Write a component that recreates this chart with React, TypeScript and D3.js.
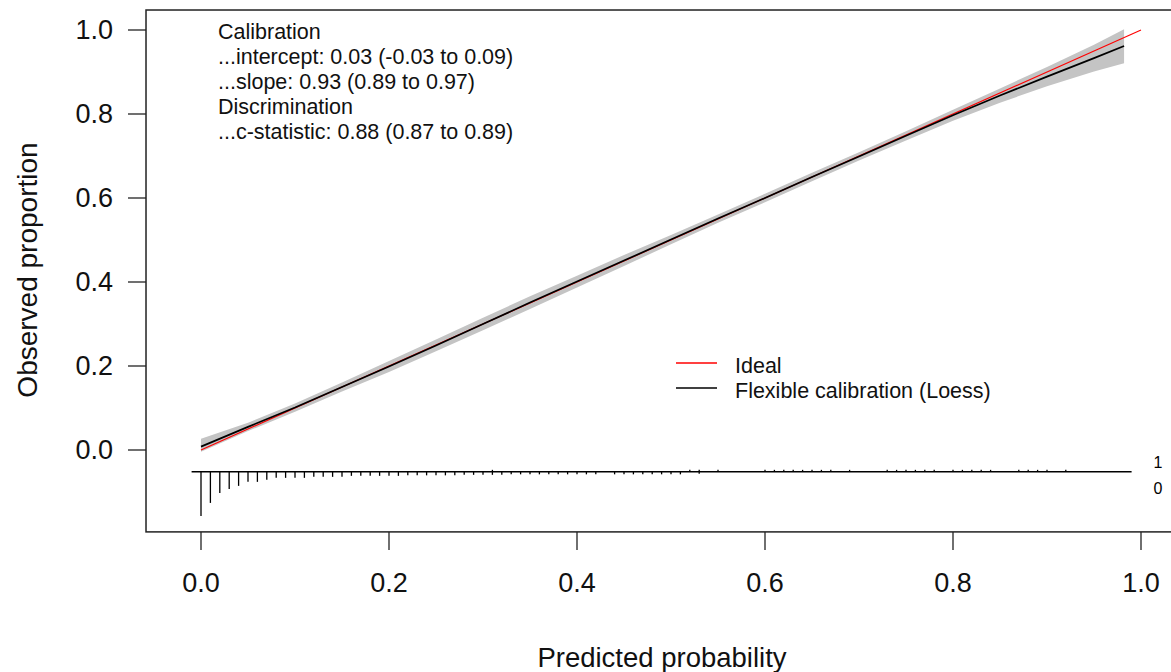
import * as d3 from "d3";

// tick values on both axes
const axisTicks = [0, 0.2, 0.4, 0.6, 0.8, 1.0];

// flexible (loess) calibration curve + confidence band
const loessX = [0, 0.05, 0.1, 0.15, 0.2, 0.25, 0.3, 0.35, 0.4, 0.45, 0.5, 0.55, 0.6, 0.65, 0.7, 0.75, 0.8, 0.85, 0.9, 0.95, 0.982];
const loessY = [0.008, 0.055, 0.101, 0.15, 0.199, 0.249, 0.3, 0.351, 0.401, 0.451, 0.501, 0.551, 0.6, 0.65, 0.699, 0.748, 0.797, 0.844, 0.889, 0.933, 0.962];
const loessLo = [-0.004, 0.045, 0.091, 0.139, 0.186, 0.235, 0.285, 0.336, 0.387, 0.438, 0.49, 0.541, 0.59, 0.64, 0.689, 0.737, 0.784, 0.827, 0.866, 0.901, 0.921];
const loessHi = [0.027, 0.065, 0.111, 0.161, 0.212, 0.263, 0.315, 0.366, 0.415, 0.464, 0.512, 0.561, 0.61, 0.66, 0.709, 0.759, 0.81, 0.861, 0.912, 0.965, 1.002];

// spike histogram: outcome 0 (downwards)
const zeroBins = [0, 0.01, 0.02, 0.03, 0.04, 0.05, 0.06, 0.07, 0.08, 0.09, 0.1, 0.11, 0.12, 0.13, 0.14, 0.15, 0.16, 0.17, 0.18, 0.19, 0.2, 0.21, 0.22, 0.23, 0.24, 0.25, 0.26, 0.27, 0.28, 0.29, 0.3, 0.31, 0.32, 0.33, 0.34, 0.35, 0.36, 0.37, 0.38, 0.39, 0.4, 0.41, 0.42, 0.44, 0.45, 0.46, 0.47, 0.48, 0.49, 0.5, 0.51, 0.53];
const zeroCounts = [440, 310, 210, 170, 140, 100, 100, 80, 60, 60, 60, 60, 50, 50, 50, 50, 40, 40, 40, 40, 40, 40, 35, 35, 35, 35, 35, 35, 30, 30, 30, 30, 30, 25, 25, 25, 25, 25, 25, 25, 25, 25, 25, 25, 25, 25, 25, 25, 25, 25, 25, 20];
// outcome 1 (upwards)
const oneBins = [0.31, 0.52, 0.53, 0.55, 0.6, 0.61, 0.62, 0.63, 0.64, 0.65, 0.66, 0.67, 0.69, 0.73, 0.74, 0.75, 0.76, 0.77, 0.78, 0.8, 0.81, 0.82, 0.83, 0.84, 0.87, 0.88, 0.89, 0.9, 0.92];
const oneCounts = [20, 20, 20, 20, 20, 20, 20, 20, 20, 20, 20, 20, 20, 20, 20, 20, 20, 20, 20, 20, 20, 20, 20, 20, 20, 20, 20, 20, 20];

const statLines = [
  "Calibration",
  "...intercept: 0.03 (-0.03 to 0.09)",
  "...slope: 0.93 (0.89 to 0.97)",
  "Discrimination",
  "...c-statistic: 0.88 (0.87 to 0.89)",
];
const legendItems = [
  { label: "Ideal", color: "#ff0000" },
  { label: "Flexible calibration (Loess)", color: "#000000" },
];

const font = "'Liberation Sans', Arial, sans-serif";

export default function App() {
  const width = 1171;
  const height = 672;

  const x = d3.scaleLinear().domain([0, 1]).range([201, 1141]);
  const y = d3.scaleLinear().domain([0, 1]).range([450, 30]);

  const xlim = [-0.0585, 1.04];
  const ylim = [-0.195, 1.0476];

  const spikeBase = -0.052;
  const spikeLen = d3.scaleLinear().domain([0, 440]).range([0, 0.105]);

  const pts = loessX.map((v, i) => ({ x: v, y: loessY[i], lo: loessLo[i], hi: loessHi[i] }));
  const band = d3
    .area<any>()
    .x((d) => x(d.x))
    .y0((d) => y(d.lo))
    .y1((d) => y(d.hi))(pts);
  const curve = d3
    .line<any>()
    .x((d) => x(d.x))
    .y((d) => y(d.y))(pts);
  const ideal = d3.line<number>().x((d) => x(d)).y((d) => y(d))([0, 1]);

  const fmt = d3.format(".1f");
  const boxL = x(xlim[0]);
  const boxR = x(xlim[1]);
  const boxT = y(ylim[1]);
  const boxB = y(ylim[0]);

  return (
    <svg
      width={width}
      height={height}
      style={{ position: "absolute", left: 0, top: 0, background: "#fff" }}
      fontFamily={font}
    >
      {/* confidence band */}
      <path d={band || ""} fill="#c4c4c4" stroke="none" />
      <path d={ideal || ""} fill="none" stroke="#ff0000" strokeWidth={1.1} />
      <path d={curve || ""} fill="none" stroke="#000" strokeWidth={1.7} />

      {/* spike histogram */}
      <line x1={x(-0.01)} x2={x(0.99)} y1={y(spikeBase)} y2={y(spikeBase)} stroke="#000" strokeWidth={1.5} />
      {zeroBins.map((b, i) => (
        <line
          key={"z" + i}
          x1={x(b)}
          x2={x(b)}
          y1={y(spikeBase)}
          y2={y(spikeBase - spikeLen(zeroCounts[i]))}
          stroke="#000"
          strokeWidth={1.3}
        />
      ))}
      {oneBins.map((b, i) => (
        <line
          key={"o" + i}
          x1={x(b)}
          x2={x(b)}
          y1={y(spikeBase)}
          y2={y(spikeBase + spikeLen(oneCounts[i]))}
          stroke="#000"
          strokeWidth={1.3}
        />
      ))}
      <text x={1158} y={462} fontSize={16} textAnchor="middle" dominantBaseline="central">1</text>
      <text x={1158} y={488} fontSize={16} textAnchor="middle" dominantBaseline="central">0</text>

      {/* plot box */}
      <rect x={boxL} y={boxT} width={boxR - boxL} height={boxB - boxT} fill="none" stroke="#222" strokeWidth={1.5} />

      {/* y axis */}
      {axisTicks.map((t) => (
        <g key={"y" + t}>
          <line x1={boxL - 18} x2={boxL} y1={y(t)} y2={y(t)} stroke="#222" strokeWidth={1.3} />
          <text x={113} y={y(t)} fontSize={27} textAnchor="end" dominantBaseline="central" fill="#111">
            {fmt(t)}
          </text>
        </g>
      ))}
      {/* x axis */}
      {axisTicks.map((t) => (
        <g key={"x" + t}>
          <line x1={x(t)} x2={x(t)} y1={boxB} y2={boxB + 18} stroke="#222" strokeWidth={1.3} />
          <text x={x(t)} y={583} fontSize={27} textAnchor="middle" dominantBaseline="central" fill="#111">
            {fmt(t)}
          </text>
        </g>
      ))}

      <text x={662} y={657} fontSize={27.5} textAnchor="middle" dominantBaseline="central" fill="#111">
        Predicted probability
      </text>
      <text
        transform={`translate(27, ${270}) rotate(-90)`}
        fontSize={28}
        textAnchor="middle"
        dominantBaseline="central"
        fill="#111"
      >
        Observed proportion
      </text>

      {/* statistics */}
      {statLines.map((s, i) => (
        <text key={"s" + i} x={218} y={39 + i * 25} fontSize={21.5} fill="#111">
          {s}
        </text>
      ))}

      {/* legend */}
      {legendItems.map((d, i) => (
        <g key={"l" + i}>
          <line x1={676} x2={717} y1={363 + i * 25} y2={363 + i * 25} stroke={d.color} strokeWidth={1.3} />
          <text x={735} y={373 + i * 25} fontSize={21.5} fill="#111">
            {d.label}
          </text>
        </g>
      ))}
    </svg>
  );
}
